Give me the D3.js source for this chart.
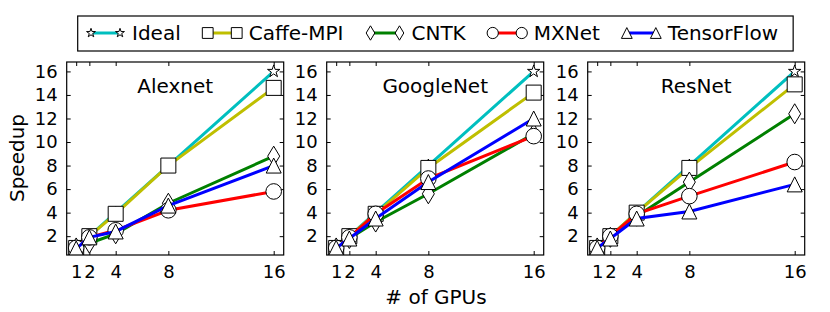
<!DOCTYPE html>
<html>
<head>
<meta charset="utf-8">
<script src="https://cdn.jsdelivr.net/npm/d3@7"></script>
<style>
body { margin: 0; background: #fff; }
text { font-family: "DejaVu Sans", sans-serif; fill: #000; }
</style>
</head>
<body>
<svg id="chart" width="830" height="312"></svg>
<script>
var gpus = [1, 2, 4, 8, 16];
var networks = ["Alexnet", "GoogleNet", "ResNet"];
var frameworks = ["Ideal", "Caffe-MPI", "CNTK", "MXNet", "TensorFlow"];
var yTicks = [2, 4, 6, 8, 10, 12, 14, 16];

// speedup per framework, rows in the same order as frameworks
var alexnet = [
    [1, 2, 4, 8, 16],
    [1, 2, 3.9, 8, 14.6],
    [1, 1.4, 2.2, 4.8, 8.8],
    [1, 1.9, 2.5, 4.2, 5.8],
    [0.95, 1.9, 2.4, 4.6, 8.0]
];
var googlenet = [
    [1, 2, 4, 8, 16],
    [1, 2, 3.9, 7.8, 14.2],
    [1, 1.8, 3.2, 5.6, 10.7],
    [1, 1.9, 3.9, 6.9, 10.5],
    [1, 1.8, 3.5, 6.6, 12.0]
];
var resnet = [
    [1, 2, 4, 8, 16],
    [1, 2, 4.0, 7.8, 14.9],
    [1, 1.9, 3.7, 6.6, 12.4],
    [1, 2, 3.9, 5.4, 8.3],
    [1, 1.8, 3.5, 4.1, 6.4]
];
var speedups = [alexnet, googlenet, resnet];

var colors = ["#00bfbf", "#bfbf00", "#008000", "#ff0000", "#0000ff"];
var shapes = ["star", "square", "diamond", "circle", "triangle"];
var markerSize = {star: 6.5, square: 7.5, diamond: 10, circle: 7.8, triangle: 7.5};

var svg = d3.select("#chart");
var tickFont = 18, labelFont = 20;

var panelLeft = [66.7, 326.7, 587.7];
var panelWidth = 217;
var plotTop = 62, plotBottom = 255;

function markerPath(shape, s) {
    if (shape == "circle") {
        var p = d3.path();
        p.arc(0, 0, s, 0, 2 * Math.PI);
        return p.toString();
    }
    var pts;
    if (shape == "square") pts = [[-s, -s], [s, -s], [s, s], [-s, s]];
    if (shape == "diamond") pts = [[0, -s], [0.6 * s, 0], [0, s], [-0.6 * s, 0]];
    if (shape == "triangle") pts = [[0, -s], [s, s], [-s, s]];
    if (shape == "star") {
        pts = [];
        for (var i = 0; i < 10; i++) {
            var r = i % 2 == 0 ? s : s * 0.382;
            var a = -Math.PI / 2 + i * Math.PI / 5;
            pts.push([r * Math.cos(a), r * Math.sin(a)]);
        }
    }
    return "M" + pts.map(function(p) { return p.join(","); }).join("L") + "Z";
}

var y = d3.scaleLinear().domain([0.4, 16.8]).range([plotBottom, plotTop]);

networks.forEach(function(name, k) {
    var left = panelLeft[k];
    var x = d3.scaleLinear().domain([0.28, 16.76]).range([left, left + panelWidth]);
    var g = svg.append("g");

    // ticks on all four sides, pointing inward
    g.append("g").attr("transform", "translate(" + left + ",0)")
        .call(d3.axisLeft(y).tickValues(yTicks).tickSizeInner(-4).tickSizeOuter(0).tickPadding(9));
    g.append("g").attr("transform", "translate(" + (left + panelWidth) + ",0)")
        .call(d3.axisRight(y).tickValues(yTicks).tickSizeInner(-4).tickSizeOuter(0).tickFormat(""));
    g.append("g").attr("transform", "translate(0," + plotBottom + ")")
        .call(d3.axisBottom(x).tickValues(gpus).tickSizeInner(-4).tickSizeOuter(0).tickPadding(10));
    g.append("g").attr("transform", "translate(0," + plotTop + ")")
        .call(d3.axisTop(x).tickValues(gpus).tickSizeInner(-4).tickSizeOuter(0).tickFormat(""));
    g.selectAll(".domain").remove();
    g.selectAll(".tick line").attr("stroke", "#000");
    g.selectAll(".tick text").attr("font-size", tickFont).attr("font-family", "DejaVu Sans");

    var line = d3.line().x(function(d, i) { return x(gpus[i]); }).y(function(d) { return y(d); });

    var clip = "clip" + k;
    g.append("clipPath").attr("id", clip).append("rect")
        .attr("x", left).attr("y", plotTop).attr("width", panelWidth).attr("height", plotBottom - plotTop);

    speedups[k].forEach(function(vals, j) {
        var s = g.append("g").attr("clip-path", "url(#" + clip + ")");
        s.append("path").attr("d", line(vals)).attr("fill", "none")
            .attr("stroke", colors[j]).attr("stroke-width", 3);
        s.selectAll("path.m").data(vals).enter().append("path").attr("class", "m")
            .attr("d", markerPath(shapes[j], markerSize[shapes[j]]))
            .attr("transform", function(d, i) { return "translate(" + x(gpus[i]) + "," + y(d) + ")"; })
            .attr("fill", "#fff").attr("stroke", "#000").attr("stroke-width", 1);
    });

    g.append("rect").attr("x", left).attr("y", plotTop).attr("width", panelWidth).attr("height", plotBottom - plotTop)
        .attr("fill", "none").attr("stroke", "#000").attr("stroke-width", 1.2);

    g.append("text").attr("x", left + panelWidth / 2).attr("y", 93)
        .attr("text-anchor", "middle").attr("font-size", labelFont).text(name);
});

svg.append("text").attr("transform", "translate(24,158) rotate(-90)")
    .attr("text-anchor", "middle").attr("font-size", labelFont).text("Speedup");
svg.append("text").attr("x", 436).attr("y", 304)
    .attr("text-anchor", "middle").attr("font-size", labelFont).text("# of GPUs");

// legend
var legend = svg.append("g");
var lx = 91, ly = 33;
frameworks.forEach(function(name, j) {
    var e = legend.append("g");
    e.append("line").attr("x1", lx).attr("x2", lx + 29).attr("y1", ly).attr("y2", ly)
        .attr("stroke", colors[j]).attr("stroke-width", 3);
    [lx, lx + 29].forEach(function(mx) {
        e.append("path").attr("d", markerPath(shapes[j], markerSize[shapes[j]] * 0.72))
            .attr("transform", "translate(" + mx + "," + ly + ")")
            .attr("fill", "#fff").attr("stroke", "#000").attr("stroke-width", 1);
    });
    var t = e.append("text").attr("x", lx + 41).attr("y", ly + 7.3).attr("font-size", labelFont).text(name);
    lx = lx + 41 + t.node().getComputedTextLength() + 27;
});
legend.insert("rect", ":first-child").attr("x", 77.7).attr("y", 16).attr("width", lx - 27 + 15 - 77.7).attr("height", 35)
    .attr("fill", "#fff").attr("stroke", "#000").attr("stroke-width", 1.2);
</script>
</body>
</html>
